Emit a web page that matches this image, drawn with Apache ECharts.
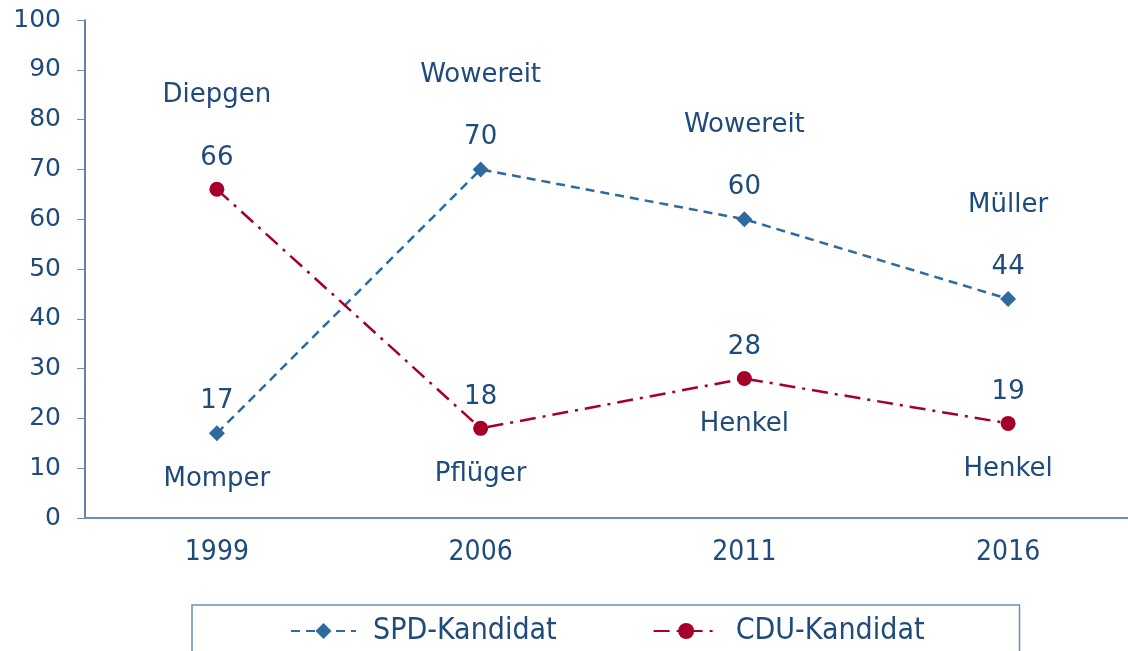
<!DOCTYPE html>
<html>
<head>
<meta charset="utf-8">
<script src="https://cdn.jsdelivr.net/npm/echarts@6/dist/echarts.min.js"></script>
<style>
html, body { margin: 0; padding: 0; background: #fff; overflow: hidden; }
#chart { width: 1140px; height: 651px; }
</style>
</head>
<body>
<div id="chart"></div>
<script>
var years = ['1999', '2006', '2011', '2016'];
var spdValues = [17, 70, 60, 44];
var cduValues = [66, 18, 28, 19];
var spdNames = ['Momper', 'Wowereit', 'Wowereit', 'Müller'];
var cduNames = ['Diepgen', 'Pflüger', 'Henkel', 'Henkel'];

var textColor = '#1f4a7c';
var spdColor = '#2e6a9e';
var cduColor = '#a6002a';

// name goes on the side away from the other party's line
function nameItems(values, other, names) {
    let res = [];
    for (let i = 0; i < values.length; ++i) {
        let up = values[i] > other[i];
        res.push({
            value: values[i],
            name: names[i],
            label: {
                position: up ? 'top' : 'bottom',
                distance: up ? 81 : 33
            }
        });
    }
    return res;
}

function nameSeries(values, other, names) {
    return {
        type: 'scatter',
        symbolSize: 0,
        silent: true,
        itemStyle: { opacity: 1 },
        data: nameItems(values, other, names),
        label: {
            show: true,
            opacity: 1,
            color: textColor,
            fontFamily: 'DejaVu Sans',
            fontSize: 26,
            formatter: p => p.name
        },
        z: 1
    };
}

var valueLabel = {
    show: true,
    position: 'top',
    distance: 11,
    color: textColor,
    fontFamily: 'DejaVu Sans',
    fontSize: 26
};

echarts.init(document.getElementById('chart')).setOption({
    animation: false,
    grid: {
        left: 85,
        right: 0,
        top: 20,
        bottom: 133
    },
    legend: {
        left: 192,
        top: 605,
        padding: [11, 95, 40, 98],
        itemGap: 96,
        itemWidth: 65,
        itemHeight: 20,
        borderColor: '#6f8db0',
        borderWidth: 1.5,
        textStyle: {
            color: textColor,
            fontFamily: 'DejaVu Sans Condensed',
            fontSize: 30,
            padding: [0, 0, 0, 12]
        },
        data: ['SPD-Kandidat', 'CDU-Kandidat']
    },
    xAxis: {
        type: 'category',
        data: years,
        axisLine: { lineStyle: { color: '#6d8fb5', width: 2 } },
        axisTick: { length: 9, lineStyle: { color: '#6d8fb5' } },
        axisLabel: {
            margin: 21,
            color: textColor,
            fontFamily: 'DejaVu Sans Condensed',
            fontSize: 28
        }
    },
    yAxis: {
        type: 'value',
        min: 0,
        max: 100,
        interval: 10,
        splitLine: { show: false },
        axisLine: { show: true, lineStyle: { color: '#2b5a8c', width: 1.5 } },
        axisTick: { show: true, length: 8, lineStyle: { color: '#6d8fb5' } },
        axisLabel: {
            margin: 24,
            color: textColor,
            fontFamily: 'DejaVu Sans',
            fontSize: 25
        }
    },
    series: [{
        name: 'SPD-Kandidat',
        type: 'line',
        data: spdValues,
        symbol: 'diamond',
        symbolSize: 16,
        itemStyle: { color: spdColor },
        lineStyle: { color: spdColor, width: 2.5, type: [9, 6] },
        label: valueLabel,
        z: 3
    }, {
        name: 'CDU-Kandidat',
        type: 'line',
        data: cduValues,
        symbol: 'circle',
        symbolSize: 15,
        itemStyle: { color: cduColor },
        lineStyle: { color: cduColor, width: 2.5, type: [16, 7, 3, 7] },
        label: valueLabel,
        z: 3
    },
    nameSeries(spdValues, cduValues, spdNames),
    nameSeries(cduValues, spdValues, cduNames)
    ]
});
</script>
</body>
</html>
